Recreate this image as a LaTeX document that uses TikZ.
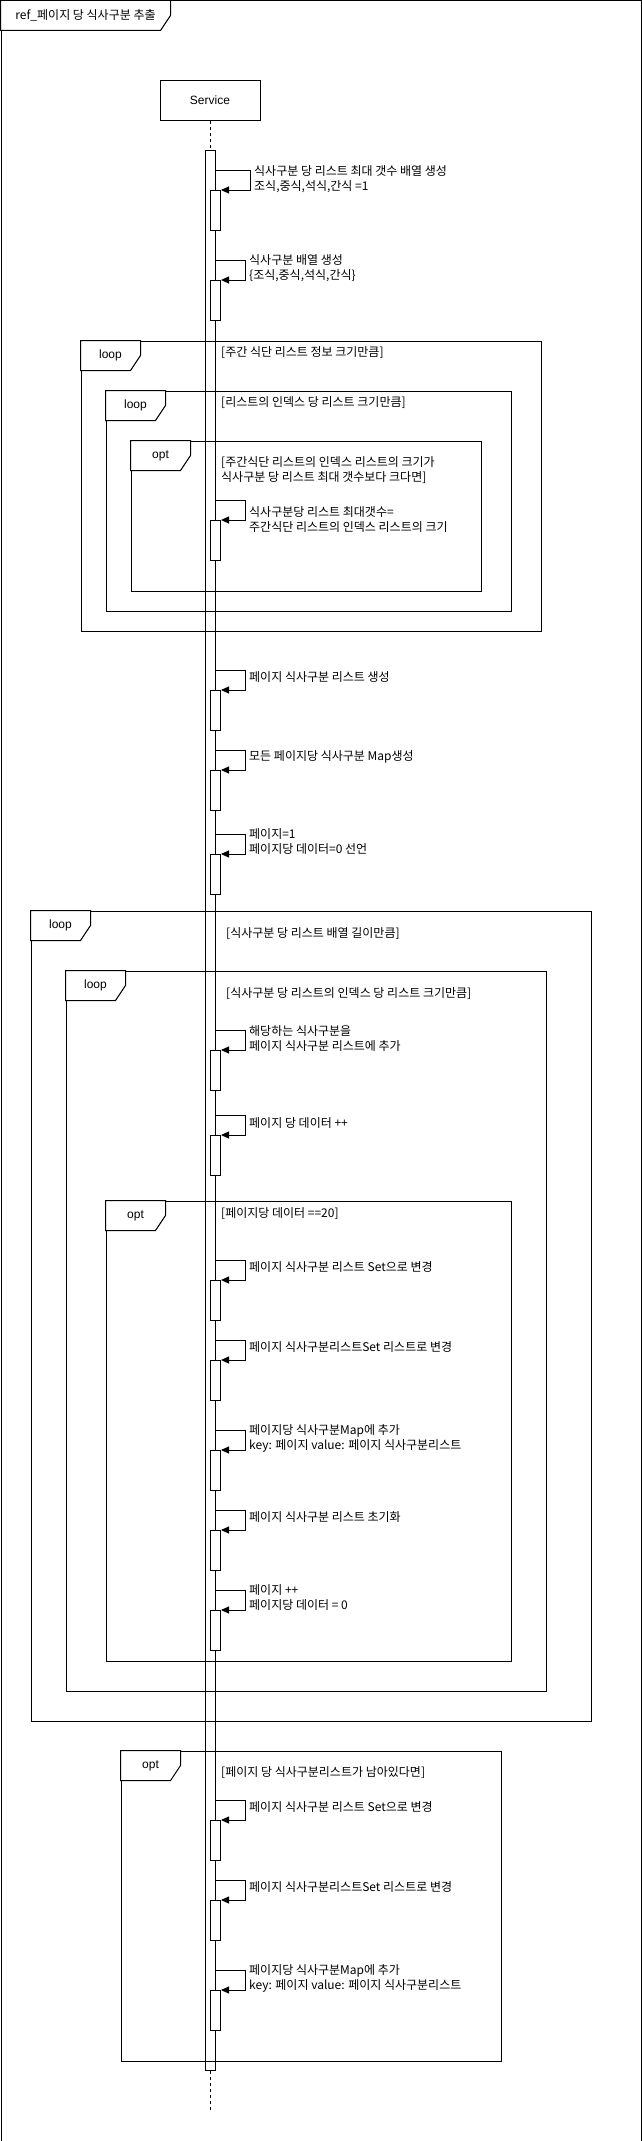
\documentclass[tikz,border=0pt]{standalone}
\usepackage{fontspec}
\setmainfont{Liberation Sans}
\newfontfamily\krfont{Noto Sans CJK KR}
\usetikzlibrary{arrows.meta}
\begin{document}
\begin{tikzpicture}[x=1pt,y=-1pt,
  umlframe/.style={draw,line width=1pt,inner sep=0pt,anchor=north west},
  tab/.style={draw,line width=1pt,fill=white},
  tablabel/.style={inner sep=0pt,font=\fontsize{12}{15}\selectfont},
  krtext/.style={anchor=west,inner sep=0pt,align=left,font=\krfont\fontsize{12}{15}\selectfont},
  actbar/.style={draw,fill=white,line width=1pt,inner sep=0pt,minimum width=10pt,minimum height=40pt,anchor=north west},
  selfmsg/.style={line width=1pt,-{Triangle[length=8pt,width=7pt]}},
  lifeline/.style={line width=1pt,dash pattern=on 3pt off 3pt}]
\useasboundingbox (0,0) rectangle (641,2141);
\node[umlframe,minimum width=640pt,minimum height=2140pt] (ref) at (0.5,0.5) {};
\draw[tab] (ref.north west) -- ++(170,0) -- ++(0,15) -- ++(-10,15) -- ++(-160,0) -- cycle;
\node[tablabel,font=\krfont\fontsize{12}{15}\selectfont] (reft) at ([shift={(85,15)}]ref.north west) {ref\_페이지 당 식사구분 추출};
\node[draw,line width=1pt,minimum width=100pt,minimum height=40pt,inner sep=0pt,font=\fontsize{12}{15}\selectfont] (svc) at (210,100) {Service};
\node[draw,fill=white,line width=1pt,minimum width=10pt,minimum height=1920pt,inner sep=0pt,anchor=north] (act) at (210,150) {};
\coordinate (lend) at (210,2110);
\draw[lifeline] (svc.south) -- (act.north);
\draw[lifeline] (act.south) -- (lend);
\node[umlframe,minimum width=460pt,minimum height=290pt] (loop1) at (80.5,340.5) {};
\draw[tab] (loop1.north west) -- ++(60,0) -- ++(0,15) -- ++(-10,15) -- ++(-50,0) -- cycle;
\node[tablabel] (loop1t) at ([shift={(30,15)}]loop1.north west) {loop};
\node[krtext] (loop1c) at (221,353) {[주간 식단 리스트 정보 크기만큼]};
\node[umlframe,minimum width=405pt,minimum height=220pt] (loop2) at (105.5,390.5) {};
\draw[tab] (loop2.north west) -- ++(60,0) -- ++(0,15) -- ++(-10,15) -- ++(-50,0) -- cycle;
\node[tablabel] (loop2t) at ([shift={(30,15)}]loop2.north west) {loop};
\node[krtext] (loop2c) at (221,403) {[리스트의 인덱스 당 리스트 크기만큼]};
\node[umlframe,minimum width=350pt,minimum height=150pt] (opt1) at (130.5,440.5) {};
\draw[tab] (opt1.north west) -- ++(60,0) -- ++(0,15) -- ++(-10,15) -- ++(-50,0) -- cycle;
\node[tablabel] (opt1t) at ([shift={(30,15)}]opt1.north west) {opt};
\node[krtext] (opt1c) at (221,470) {[주간식단 리스트의 인덱스 리스트의 크기가\\식사구분 당 리스트 최대 갯수보다 크다면]};
\node[umlframe,minimum width=560pt,minimum height=810pt] (loopa) at (30.5,910.5) {};
\draw[tab] (loopa.north west) -- ++(60,0) -- ++(0,15) -- ++(-10,15) -- ++(-50,0) -- cycle;
\node[tablabel] (loopat) at ([shift={(30,15)}]loopa.north west) {loop};
\node[krtext] (loopac) at (226,934) {[식사구분 당 리스트 배열 길이만큼]};
\node[umlframe,minimum width=480pt,minimum height=720pt] (loopb) at (65.5,970.5) {};
\draw[tab] (loopb.north west) -- ++(60,0) -- ++(0,15) -- ++(-10,15) -- ++(-50,0) -- cycle;
\node[tablabel] (loopbt) at ([shift={(30,15)}]loopb.north west) {loop};
\node[krtext] (loopbc) at (226,994) {[식사구분 당 리스트의 인덱스 당 리스트 크기만큼]};
\node[umlframe,minimum width=405pt,minimum height=460pt] (opt2) at (105.5,1200.5) {};
\draw[tab] (opt2.north west) -- ++(60,0) -- ++(0,15) -- ++(-10,15) -- ++(-50,0) -- cycle;
\node[tablabel] (opt2t) at ([shift={(30,15)}]opt2.north west) {opt};
\node[krtext] (opt2c) at (221,1214) {[페이지당 데이터 ==20]};
\node[umlframe,minimum width=380pt,minimum height=310pt] (opt3) at (120.5,1750.5) {};
\draw[tab] (opt3.north west) -- ++(60,0) -- ++(0,15) -- ++(-10,15) -- ++(-50,0) -- cycle;
\node[tablabel] (opt3t) at ([shift={(30,15)}]opt3.north west) {opt};
\node[krtext] (opt3c) at (221,1773) {[페이지 당 식사구분리스트가 남아있다면]};
\node[actbar] (a1) at (210,190) {};
\draw[selfmsg] ([yshift=20pt]act.east |- a1.north) -- ++(35,0) |- (a1.north east);
\node[krtext] (m1) at (254,179) {식사구분 당 리스트 최대 갯수 배열 생성\\조식,중식,석식,간식 =1};
\node[actbar] (a2) at (210,280) {};
\draw[selfmsg] ([yshift=20pt]act.east |- a2.north) -- ++(30,0) |- (a2.north east);
\node[krtext] (m2) at (249,268) {식사구분 배열 생성\\\{조식,중식,석식,간식\}};
\node[actbar] (a3) at (210,520) {};
\draw[selfmsg] ([yshift=20pt]act.east |- a3.north) -- ++(30,0) |- (a3.north east);
\node[krtext] (m3) at (249,520) {식사구분당 리스트 최대갯수=\\주간식단 리스트의 인덱스 리스트의 크기};
\node[actbar] (a4) at (210,690) {};
\draw[selfmsg] ([yshift=20pt]act.east |- a4.north) -- ++(30,0) |- (a4.north east);
\node[krtext] (m4) at (249,677) {페이지 식사구분 리스트 생성};
\node[actbar] (a5) at (210,770) {};
\draw[selfmsg] ([yshift=20pt]act.east |- a5.north) -- ++(30,0) |- (a5.north east);
\node[krtext] (m5) at (249,757) {모든 페이지당 식사구분 Map생성};
\node[actbar] (a6) at (210,854) {};
\draw[selfmsg] ([yshift=20pt]act.east |- a6.north) -- ++(30,0) |- (a6.north east);
\node[krtext] (m6) at (249,842) {페이지=1\\페이지당 데이터=0 선언};
\node[actbar] (a7) at (210,1050) {};
\draw[selfmsg] ([yshift=20pt]act.east |- a7.north) -- ++(30,0) |- (a7.north east);
\node[krtext] (m7) at (249,1038) {해당하는 식사구분을\\페이지 식사구분 리스트에 추가};
\node[actbar] (a8) at (210,1135) {};
\draw[selfmsg] ([yshift=20pt]act.east |- a8.north) -- ++(30,0) |- (a8.north east);
\node[krtext] (m8) at (249,1123) {페이지 당 데이터 ++};
\node[actbar] (a9) at (210,1280) {};
\draw[selfmsg] ([yshift=20pt]act.east |- a9.north) -- ++(30,0) |- (a9.north east);
\node[krtext] (m9) at (249,1267) {페이지 식사구분 리스트 Set으로 변경};
\node[actbar] (a10) at (210,1360) {};
\draw[selfmsg] ([yshift=20pt]act.east |- a10.north) -- ++(30,0) |- (a10.north east);
\node[krtext] (m10) at (249,1347) {페이지 식사구분리스트Set 리스트로 변경};
\node[actbar] (a11) at (210,1450) {};
\draw[selfmsg] ([yshift=20pt]act.east |- a11.north) -- ++(30,0) |- (a11.north east);
\node[krtext] (m11) at (249,1438) {페이지당 식사구분Map에 추가\\key: 페이지 value: 페이지 식사구분리스트};
\node[actbar] (a12) at (210,1530) {};
\draw[selfmsg] ([yshift=20pt]act.east |- a12.north) -- ++(30,0) |- (a12.north east);
\node[krtext] (m12) at (249,1517) {페이지 식사구분 리스트 초기화};
\node[actbar] (a13) at (210,1610) {};
\draw[selfmsg] ([yshift=20pt]act.east |- a13.north) -- ++(30,0) |- (a13.north east);
\node[krtext] (m13) at (249,1597) {페이지 ++\\페이지당 데이터 = 0};
\node[actbar] (a14) at (210,1820) {};
\draw[selfmsg] ([yshift=20pt]act.east |- a14.north) -- ++(30,0) |- (a14.north east);
\node[krtext] (m14) at (249,1807) {페이지 식사구분 리스트 Set으로 변경};
\node[actbar] (a15) at (210,1900) {};
\draw[selfmsg] ([yshift=20pt]act.east |- a15.north) -- ++(30,0) |- (a15.north east);
\node[krtext] (m15) at (249,1887) {페이지 식사구분리스트Set 리스트로 변경};
\node[actbar] (a16) at (210,1990) {};
\draw[selfmsg] ([yshift=20pt]act.east |- a16.north) -- ++(30,0) |- (a16.north east);
\node[krtext] (m16) at (249,1978) {페이지당 식사구분Map에 추가\\key: 페이지 value: 페이지 식사구분리스트};
\end{tikzpicture}
\end{document}
